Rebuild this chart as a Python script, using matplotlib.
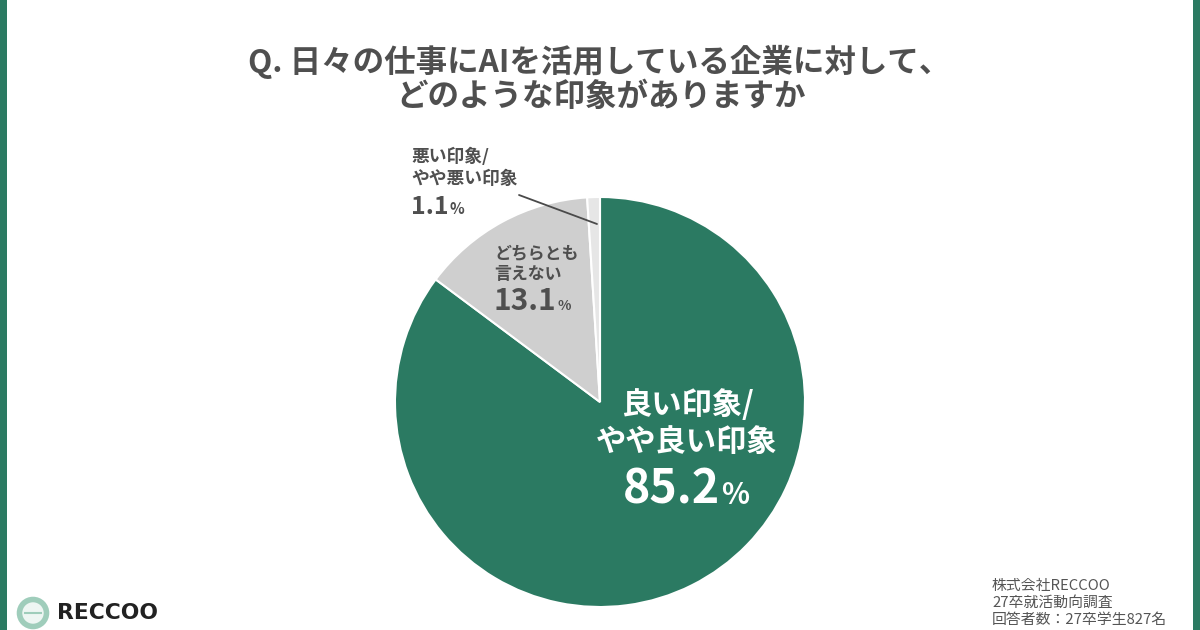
import matplotlib
matplotlib.use("Agg")
import matplotlib.pyplot as plt
from matplotlib.patches import Circle, Rectangle

plt.rcParams['font.family'] = ['Noto Sans CJK JP', 'DejaVu Sans']

W, H = 1200, 630
title_lines = ["Q. 日々の仕事にAIを活用している企業に対して、", "どのような印象がありますか"]
category_labels = ["良い印象/\nやや良い印象", "どちらとも\n言えない", "悪い印象/\nやや悪い印象"]
labelled_values = ["85.2", "13.1", "1.1"]
# slice sizes as measured on the drawn pie
slice_shares = [85.2, 13.8, 1.0]
slice_colors = ["#2b7a62", "#cfcfcf", "#e6e6e6"]
footer_lines = ["株式会社RECCOO", "27卒就活動向調査", "回答者数：27卒学生827名"]
GREY = "#4f4f4f"

fig = plt.figure(figsize=(12, 6.3), dpi=100, facecolor="white")
bg = fig.add_axes([0, 0, 1, 1])
bg.set_xlim(0, W); bg.set_ylim(H, 0); bg.axis("off")

bg.add_patch(Rectangle((0, 0), 7, H, color="#2b7a62", lw=0))
bg.add_patch(Rectangle((W - 7, 0), 7, H, color="#2b7a62", lw=0))

# Pie
cx, cy, r = 600, 402, 205
pie_ax = fig.add_axes([(cx - r) / W, 1 - (cy + r) / H, 2 * r / W, 2 * r / H])
pie_ax.pie(slice_shares, colors=slice_colors, startangle=90, counterclock=False, radius=1,
           wedgeprops=dict(edgecolor="white", linewidth=1.5), normalize=True)
pie_ax.set_xlim(-1, 1); pie_ax.set_ylim(-1, 1)

top = fig.add_axes([0, 0, 1, 1])
top.set_xlim(0, W); top.set_ylim(H, 0); top.axis("off"); top.patch.set_alpha(0)

# Title
top.text(599, 62, title_lines[0], ha="center", va="center", fontsize=22.7, color=GREY, fontweight="bold")
top.text(601, 97, title_lines[1], ha="center", va="center", fontsize=22.7, color=GREY, fontweight="bold")

# Green label
top.text(687, 405, category_labels[0].split("\n")[0], ha="center", va="center", fontsize=21.8, color="white", fontweight="bold")
top.text(687, 442, category_labels[0].split("\n")[1], ha="center", va="center", fontsize=21.8, color="white", fontweight="bold")
top.text(623, 489, labelled_values[0], ha="left", va="center", fontsize=33.5, color="white", fontweight="bold")
top.text(721, 495, "%", ha="left", va="center", fontsize=21, color="white", fontweight="bold")

# Grey label
top.text(494, 253, category_labels[1].split("\n")[0], ha="left", va="center", fontsize=12.2, color=GREY, fontweight="bold")
top.text(494, 274, category_labels[1].split("\n")[1], ha="left", va="center", fontsize=12.2, color=GREY, fontweight="bold")
top.text(494, 301, labelled_values[1], ha="left", va="center", fontsize=21.5, color=GREY, fontweight="bold")
top.text(558, 306, "%", ha="left", va="center", fontsize=10, color=GREY, fontweight="bold")

# Small slice label
top.text(411, 157, category_labels[2].split("\n")[0], ha="left", va="center", fontsize=12.8, color=GREY, fontweight="bold")
top.text(411, 179, category_labels[2].split("\n")[1], ha="left", va="center", fontsize=12.8, color=GREY, fontweight="bold")
top.text(411, 207, labelled_values[2], ha="left", va="center", fontsize=18, color=GREY, fontweight="bold")
top.text(449, 209, "%", ha="left", va="center", fontsize=11, color=GREY, fontweight="bold")
top.annotate("", xy=(597, 224), xytext=(519, 195),
             arrowprops=dict(arrowstyle="-", color="#4a4a4a", lw=1.3, shrinkA=0, shrinkB=0))

# Footer
for y, line in zip([586, 603, 620], footer_lines):
    top.text(992, y, line, ha="left", va="center", fontsize=10.7, color="#555555")

# Logo
top.add_patch(Circle((33, 613), 13.5, facecolor="#eef6f3", edgecolor="#9fcdbb", lw=4))
top.plot([25, 41], [613, 613], color="#9fcdbb", lw=1.5)
top.text(57, 613, "RECCOO", ha="left", va="center", fontsize=15.7, color="#222222", fontweight="bold",
         family=["DejaVu Sans"])

fig.savefig("out.png", dpi=100)
